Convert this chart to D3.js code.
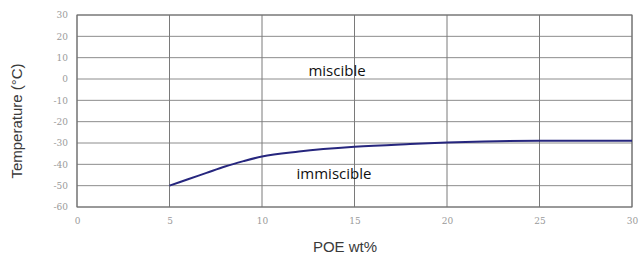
<!DOCTYPE html>
<html>
<head>
<meta charset="utf-8">
<script src="https://cdn.jsdelivr.net/npm/d3@7"></script>
<style>
  body { margin: 0; background: #fff; }
  svg { display: block; }
  .tick text { font-family: "DejaVu Serif", serif; font-size: 9px; fill: #9a9a9a; }
</style>
</head>
<body>
<div id="chart"></div>
<script>
// DATA
const poe = [5, 6, 7, 8, 9, 10, 12, 15, 18, 20, 22, 25, 30];
const temp = [-50, -47, -44, -41, -38.5, -36.3, -34, -31.8, -30.5, -29.8, -29.3, -29, -29];
const xTicks = [0, 5, 10, 15, 20, 25, 30];
const yTicks = [30, 20, 10, 0, -10, -20, -30, -40, -50, -60];

// SIZE
const width = 639, height = 264;
const margin = { top: 15, right: 7, bottom: 57, left: 77 };

const svg = d3.select('#chart')
    .append('svg')
    .attr('width', width)
    .attr('height', height);

const x = d3.scaleLinear().domain([0, 30]).range([margin.left, width - margin.right]);
const y = d3.scaleLinear().domain([-60, 30]).range([height - margin.bottom, margin.top]);

// GRID
svg.append('g')
    .selectAll('line')
    .data(yTicks)
    .join('line')
    .attr('x1', x(0)).attr('x2', x(30))
    .attr('y1', d => y(d)).attr('y2', d => y(d))
    .attr('stroke', '#8c8c8c')
    .attr('stroke-width', 1);

svg.append('g')
    .selectAll('line')
    .data(xTicks)
    .join('line')
    .attr('x1', d => x(d)).attr('x2', d => x(d))
    .attr('y1', y(30)).attr('y2', y(-60))
    .attr('stroke', '#7a7a7a')
    .attr('stroke-width', 1);

// BORDER
svg.append('rect')
    .attr('x', x(0)).attr('y', y(30))
    .attr('width', x(30) - x(0))
    .attr('height', y(-60) - y(30))
    .attr('fill', 'none')
    .attr('stroke', '#6e6e6e')
    .attr('stroke-width', 1);

// AXES (plain hyphen for negatives, like the original)
const fmt = d => String(d);

const xAxis = svg.append('g')
    .attr('transform', `translate(0,${y(-60)})`)
    .call(d3.axisBottom(x).tickValues(xTicks).tickFormat(fmt).tickSize(0).tickPadding(11));
xAxis.select('.domain').remove();

const yAxis = svg.append('g')
    .attr('transform', `translate(${x(0)},0)`)
    .call(d3.axisLeft(y).tickValues(yTicks).tickFormat(fmt).tickSize(0).tickPadding(9));
yAxis.select('.domain').remove();

// CURVE
const line = d3.line()
    .x((d, i) => x(poe[i]))
    .y(d => y(d))
    .curve(d3.curveMonotoneX);

svg.append('path')
    .datum(temp)
    .attr('d', line)
    .attr('fill', 'none')
    .attr('stroke', '#26267e')
    .attr('stroke-width', 2);

// LABELS
svg.append('text')
    .text('miscible')
    .attr('x', 337).attr('y', 76)
    .attr('text-anchor', 'middle')
    .style('font-family', '"Open Sans", sans-serif')
    .style('font-size', '15px')
    .style('fill', '#111');

svg.append('text')
    .text('immiscible')
    .attr('x', 334).attr('y', 179)
    .attr('text-anchor', 'middle')
    .style('font-family', '"Open Sans", sans-serif')
    .style('font-size', '15px')
    .style('fill', '#111');

svg.append('text')
    .text('POE wt%')
    .attr('x', 345).attr('y', 252)
    .attr('text-anchor', 'middle')
    .style('font-family', '"Liberation Sans", Arial, sans-serif')
    .style('font-size', '15px')
    .style('fill', '#3a3a3a');

svg.append('text')
    .text('Temperature (°C)')
    .attr('transform', 'translate(22,121)rotate(-90)')
    .attr('text-anchor', 'middle')
    .style('font-family', '"Liberation Sans", Arial, sans-serif')
    .style('font-size', '15px')
    .style('fill', '#3a3a3a');
</script>
</body>
</html>
